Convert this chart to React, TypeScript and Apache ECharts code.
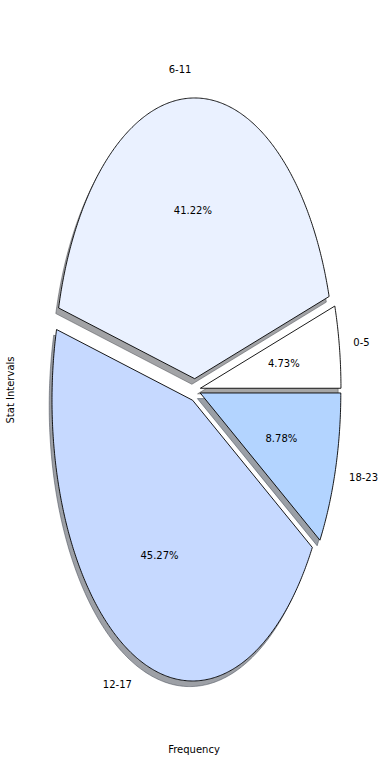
import React, { useEffect, useRef } from "react";
import * as echarts from "echarts";

const categories = ["0-5", "6-11", "12-17", "18-23"];
const counts = [7, 61, 67, 13];
const explode = [0.04, 0.04, 0.04, 0.04];
const colors = ["#ffffff", "#eaf1ff", "#c6d9ff", "#b3d4ff"];
const xLabel = "Frequency";
const yLabel = "Stat Intervals";

const FONT = "DejaVu Sans";

function shade(hex: string): string {
  const r = parseInt(hex.slice(1, 3), 16);
  const g = parseInt(hex.slice(3, 5), 16);
  const b = parseInt(hex.slice(5, 7), 16);
  return `rgba(${Math.round(r * 0.3)},${Math.round(g * 0.3)},${Math.round(b * 0.3)},0.5)`;
}

export default function App() {
  const ref = useRef<HTMLDivElement>(null);
  useEffect(() => {
    document.body.style.margin = "0";
    const chart = echarts.init(ref.current!, null, { renderer: "svg" });
    const total = counts.reduce((a, b) => a + b, 0);
    const starts: number[] = [];
    let acc = 0;
    counts.forEach((c) => {
      starts.push(acc);
      acc += c;
    });

    const renderItem = (params: any, api: any) => {
      const W = api.getWidth();
      const H = api.getHeight();
      const CX = W * 0.4995;
      const CY = H * 0.4999;
      const RX = W * 0.3605;
      const RY = H * 0.3599;
      const i = params.dataIndex;
      const v = api.value(1);
      const a1 = (starts[i] / total) * 2 * Math.PI;
      const a2 = ((starts[i] + v) / total) * 2 * Math.PI;
      const am = (a1 + a2) / 2;
      const e = explode[i];
      const ox = CX + e * RX * Math.cos(am);
      const oy = CY - e * RY * Math.sin(am);
      const pts: number[][] = [[ox, oy]];
      const n = Math.max(8, Math.ceil((a2 - a1) / (Math.PI / 360)));
      for (let k = 0; k <= n; k++) {
        const a = a1 + ((a2 - a1) * k) / n;
        pts.push([ox + RX * Math.cos(a), oy - RY * Math.sin(a)]);
      }
      const sdx = -2.8;
      const sdy = 5.6;
      const spts = pts.map((p) => [p[0] + sdx, p[1] + sdy]);
      const sc = shade(colors[i]);
      const lx = ox + 1.1 * RX * Math.cos(am);
      const ly = oy - 1.1 * RY * Math.sin(am);
      const px = ox + 0.6 * RX * Math.cos(am);
      const py = oy - 0.6 * RY * Math.sin(am);
      return {
        type: "group",
        children: [
          {
            type: "polygon",
            z2: 0,
            shape: { points: spts },
            style: { fill: sc, stroke: sc, lineWidth: 1 },
          },
          {
            type: "polygon",
            z2: 10,
            shape: { points: pts },
            style: { fill: colors[i], stroke: "#000000", lineWidth: 0.9, lineJoin: "miter" },
          },
          {
            type: "text",
            z2: 20,
            x: lx,
            y: ly,
            style: {
              text: categories[i],
              fill: "#000",
              font: `10px '${FONT}'`,
              align: Math.cos(am) > 0 ? "left" : "right",
              verticalAlign: "middle",
            },
          },
          {
            type: "text",
            z2: 20,
            x: px,
            y: py,
            style: {
              text: ((v / total) * 100).toFixed(2) + "%",
              fill: "#000",
              font: `10px '${FONT}'`,
              align: "center",
              verticalAlign: "middle",
            },
          },
        ],
      };
    };

    chart.setOption({
      animation: false,
      backgroundColor: "#ffffff",
      series: [
        {
          type: "custom",
          coordinateSystem: "none",
          dimensions: ["idx", "count"],
          data: counts.map((c, i) => [i, c]),
          renderItem,
        },
      ],
      graphic: [
        {
          type: "text",
          x: 194,
          y: 749,
          style: {
            text: xLabel,
            fill: "#000",
            font: `10px '${FONT}'`,
            align: "center",
            verticalAlign: "middle",
          },
        },
        {
          type: "text",
          x: 10,
          y: 390,
          rotation: Math.PI / 2,
          style: {
            text: yLabel,
            fill: "#000",
            font: `10px '${FONT}'`,
            align: "center",
            verticalAlign: "middle",
          },
        },
      ],
    });
    return () => chart.dispose();
  }, []);
  return <div ref={ref} style={{ width: 390, height: 780 }} />;
}
